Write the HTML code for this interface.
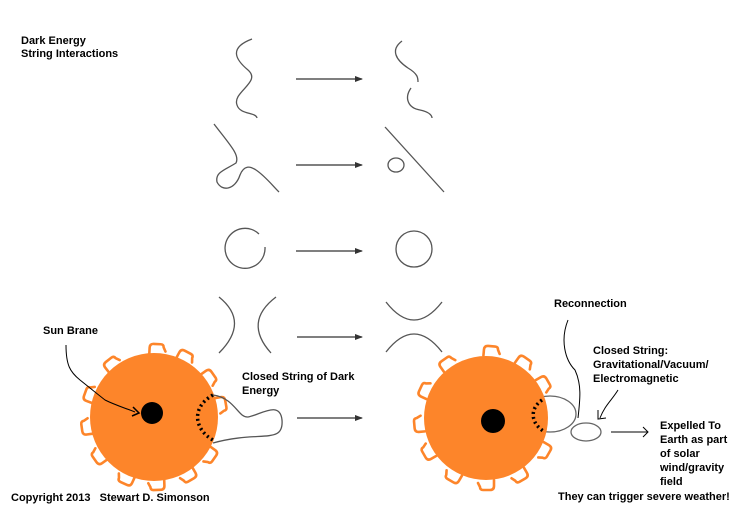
<!DOCTYPE html>
<html><head><meta charset="utf-8"><style>
body{margin:0;background:#fff}
svg{display:block}
text{font-family:"Liberation Sans",sans-serif;font-weight:bold;font-size:11px;fill:#000}
</style></head><body>
<svg width="749" height="512" viewBox="0 0 749 512" xmlns="http://www.w3.org/2000/svg">
<defs>
<marker id="ah" markerWidth="8" markerHeight="6" refX="7" refY="3" orient="auto" markerUnits="userSpaceOnUse"><path d="M0,0 L8,3 L0,6 Z" fill="#333"/></marker>
<g id="fl"><path d="M-8,1 L-8,-5 Q-8,-9 -4,-9 L3,-9 Q6,-9 6,-6 L8,-2" fill="none" stroke="#FD852A" stroke-width="2.6" stroke-linejoin="round" stroke-linecap="round"/></g>
</defs>
<text x="21" y="44">Dark Energy</text>
<text x="21" y="57">String Interactions</text>
<g fill="none" stroke="#555" stroke-width="1.3">
<path d="M252,39 C228,48 236,60 248,70 C262,82 232,92 237,105 C240,115 256,112 257,118"/>
<path d="M402,41 C390,50 396,60 408,68 C418,74 418,78 418,82"/>
<path d="M411,88 C404,98 408,108 420,110 C430,112 432,116 432,118"/>
<path d="M214,124 C230,145 240,155 236,163 C225,170 215,172 217,182 C222,192 235,190 240,175 C244,165 250,166 256,170 C265,176 272,185 279,192"/>
<path d="M385,127 L444,192"/>
<ellipse cx="396" cy="165" rx="8" ry="7"/>
<path d="M265,247 A20,20 0 1 1 259,234"/>
<circle cx="414" cy="249" r="18"/>
<path d="M219,297 Q250,322 219,353"/>
<path d="M276,297 Q243,322 271,353"/>
<path d="M386,302 Q414,338 442,302"/>
<path d="M386,352 Q414,316 442,352"/>
</g>
<g stroke="#333" stroke-width="1.2" marker-end="url(#ah)">
<line x1="296" y1="79" x2="362" y2="79"/>
<line x1="296" y1="165" x2="362" y2="165"/>
<line x1="296" y1="251" x2="362" y2="251"/>
<line x1="297" y1="337" x2="362" y2="337"/>
<line x1="297" y1="418" x2="362" y2="418"/>
</g>
<!-- left sun -->
<g transform="translate(154,417)">
<use href="#fl" transform="rotate(3) translate(0,-64)"/>
<use href="#fl" transform="rotate(28) translate(0,-64)"/>
<use href="#fl" transform="rotate(55) translate(0,-64)"/>
<use href="#fl" transform="rotate(80) translate(0,-64)"/>
<use href="#fl" transform="rotate(125) translate(0,-64)"/>
<use href="#fl" transform="rotate(150) translate(0,-64)"/>
<use href="#fl" transform="rotate(178) translate(0,-64)"/>
<use href="#fl" transform="rotate(205) translate(0,-64)"/>
<use href="#fl" transform="rotate(235) translate(0,-64)"/>
<use href="#fl" transform="rotate(262) translate(0,-64)"/>
<use href="#fl" transform="rotate(290) translate(0,-64)"/>
<use href="#fl" transform="rotate(322) translate(0,-64)"/>
<circle r="64" fill="#FD852A"/>
</g>
<circle cx="152" cy="413" r="11" fill="#000"/>
<path d="M66,345 C66,365 70,372 80,380 C95,392 95,392 105,400 C115,405 125,408 135,412" fill="none" stroke="#000" stroke-width="1"/>
<path d="M133,407 L139,413 L132,416" fill="none" stroke="#000" stroke-width="1.5"/>
<path d="M213,395 C190,408 195,430 213,440" fill="none" stroke="#000" stroke-width="3.5" stroke-dasharray="2,3"/>
<path d="M213,395 C235,398 238,418 248,417 C260,415 280,400 282,420 C284,445 260,430 213,443" fill="none" stroke="#555" stroke-width="1.3"/>
<text x="43" y="334">Sun Brane</text>
<text x="242" y="380">Closed String of Dark</text>
<text x="242" y="394">Energy</text>
<!-- right sun -->
<ellipse cx="550" cy="414" rx="26" ry="18" fill="none" stroke="#666" stroke-width="1.3"/>
<g transform="translate(486,418)">
<use href="#fl" transform="rotate(5) translate(0,-63)"/>
<use href="#fl" transform="rotate(35) translate(0,-63)"/>
<use href="#fl" transform="rotate(60) translate(0,-63)"/>
<use href="#fl" transform="rotate(120) translate(0,-63)"/>
<use href="#fl" transform="rotate(150) translate(0,-63)"/>
<use href="#fl" transform="rotate(180) translate(0,-63)"/>
<use href="#fl" transform="rotate(210) translate(0,-63)"/>
<use href="#fl" transform="rotate(240) translate(0,-63)"/>
<use href="#fl" transform="rotate(265) translate(0,-63)"/>
<use href="#fl" transform="rotate(295) translate(0,-63)"/>
<use href="#fl" transform="rotate(325) translate(0,-63)"/>
<circle r="62" fill="#FD852A"/>
</g>
<circle cx="493" cy="421" r="12" fill="#000"/>
<path d="M542,400 C528,410 532,425 545,432" fill="none" stroke="#000" stroke-width="3.5" stroke-dasharray="2,3"/>
<ellipse cx="586" cy="432" rx="15" ry="9" fill="none" stroke="#666" stroke-width="1.3"/>
<path d="M568,320 C560,340 565,360 575,370 C582,385 580,400 578,418" fill="none" stroke="#000" stroke-width="1"/>
<path d="M618,390 C612,400 605,405 600,418" fill="none" stroke="#000" stroke-width="1"/>
<path d="M598,410 L598,419 L606,418" fill="none" stroke="#000" stroke-width="1"/>
<line x1="611" y1="432" x2="648" y2="432" stroke="#000" stroke-width="1"/>
<path d="M643,427 L648,432 L643,437" fill="none" stroke="#000" stroke-width="1"/>
<text x="554" y="307">Reconnection</text>
<text x="593" y="354">Closed String:</text>
<text x="593" y="368">Gravitational/Vacuum/</text>
<text x="593" y="382">Electromagnetic</text>
<text x="660" y="429">Expelled To</text>
<text x="660" y="443">Earth as part</text>
<text x="660" y="457">of solar</text>
<text x="660" y="471">wind/gravity</text>
<text x="660" y="485">field</text>
<text x="558" y="500">They can trigger severe weather!</text>
<text x="11" y="501" xml:space="preserve">Copyright 2013   Stewart D. Simonson</text>
</svg>
</body></html>
